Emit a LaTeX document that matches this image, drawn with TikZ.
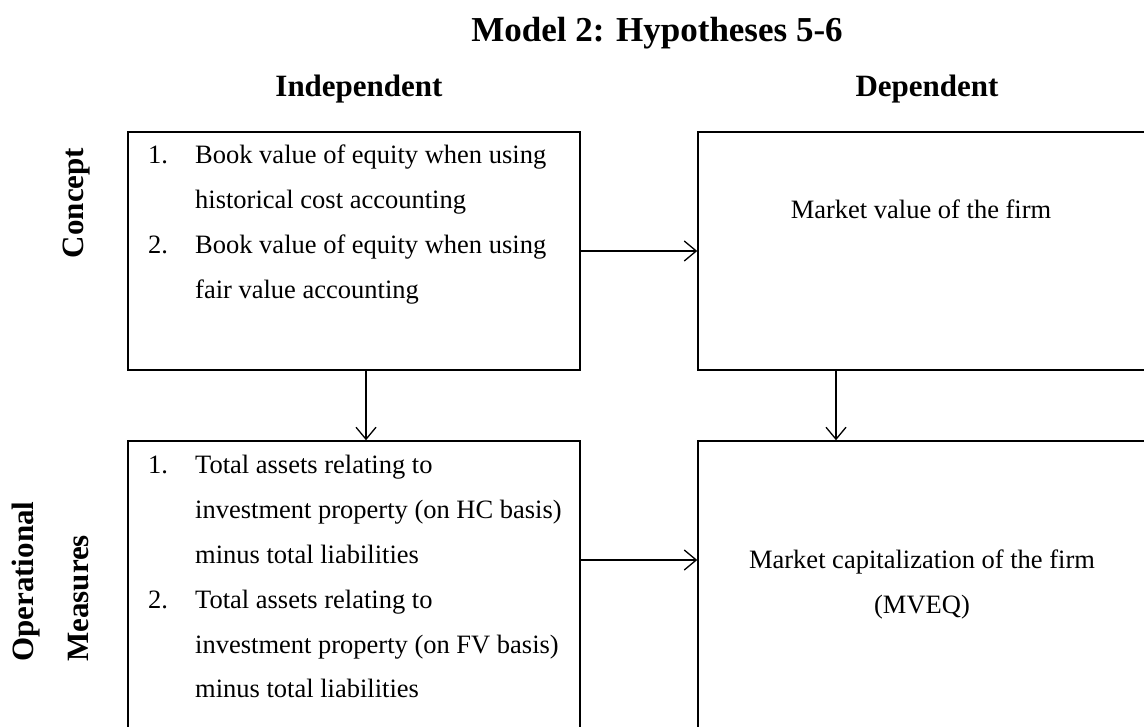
\documentclass[tikz,border=0pt]{standalone}
\usepackage{fontspec}
\setmainfont{Liberation Serif}
\usetikzlibrary{arrows.meta}
\begin{document}
\begin{tikzpicture}[x=1pt,y=-1pt,
  box/.style={draw, line width=1.5pt, inner sep=0pt, rectangle},
  conn/.style={draw, line width=1.3pt, -{Straight Barb[length=12pt,width=20pt,line width=1.3pt]}},
  body/.style={font=\fontsize{26.5}{45}\selectfont, inner sep=0pt},
  head/.style={font=\fontsize{31}{37}\selectfont\bfseries, inner sep=0pt},
  ttl/.style={font=\fontsize{35}{42}\selectfont\bfseries, inner sep=0pt}]
\useasboundingbox (0,0) rectangle (1144,727);
\clip (0,0) rectangle (1144,727);

% boxes
\node[box, minimum width=452pt, minimum height=238pt] (ul) at (354,251) {};
\node[box, minimum width=448pt, minimum height=238pt] (ur) at (922,251) {};
\node[box, minimum width=452pt, minimum height=319pt] (ll) at (354,600.5) {};
\node[box, minimum width=448pt, minimum height=319pt] (lr) at (922,600.5) {};

% titles
\node[ttl, anchor=base] (title) at (657,42) {Model 2: Hypotheses 5-6};
\node[head, anchor=base] (ind) at (359,97) {Independent};
\node[head, anchor=base] (dep) at (927,97) {Dependent};
\node[head, rotate=90, anchor=base] (con) at (83,203) {Concept};
\node[head, rotate=90, anchor=base west] (op) at (33,662) {Operational};
\node[head, rotate=90, anchor=base west] (me) at (88,662) {Measures};

% texts
\node[body, anchor=base west] (ult) at (148,164) {\begin{tabular}[t]{@{}p{47pt}@{}l@{}}
1.&Book value of equity when using\\
&historical cost accounting\\
2.&Book value of equity when using\\
&fair value accounting
\end{tabular}};
\node[body, anchor=base west] (llt) at (148,473) {\begin{tabular}[t]{@{}p{47pt}@{}l@{}}
1.&Total assets relating to\\
&investment property (on HC basis)\\
&minus total liabilities\\
2.&Total assets relating to\\
&investment property (on FV basis)\\
&minus total liabilities
\end{tabular}};
\node[body, anchor=base] (urt) at (921,219) {Market value of the firm};
\node[body, anchor=base] (lrt) at (922,568) {\begin{tabular}[t]{@{}c@{}}
Market capitalization of the firm\\
(MVEQ)
\end{tabular}};

% connectors
\draw[conn] (ul.east) -- (ur.west);
\draw[conn] ([yshift=40.5pt]ll.east) -- ([yshift=40.5pt]lr.west);
\draw[conn] ([xshift=12pt]ul.south) -- ([xshift=12pt]ll.north);
\draw[conn] ([xshift=-86pt]ur.south) -- ([xshift=-86pt]lr.north);
\end{tikzpicture}
\end{document}
